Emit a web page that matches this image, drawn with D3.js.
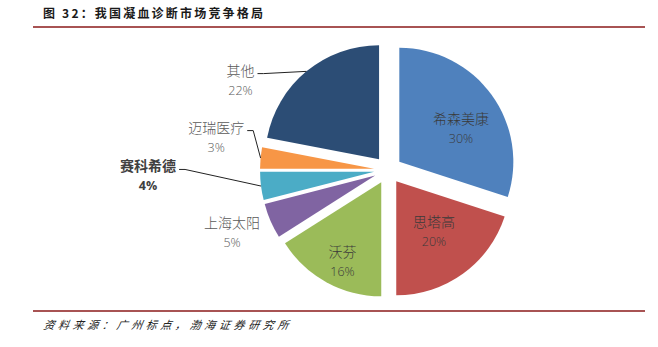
<!DOCTYPE html>
<html><head><meta charset="utf-8">
<script src="https://cdn.jsdelivr.net/npm/d3@7"></script>
<style>body{margin:0;background:#fff}svg{display:block}</style>
</head><body>
<svg id="c" width="658" height="347"></svg>
<script>
const categories = ["希森美康","思塔高","沃芬","上海太阳","赛科希德","迈瑞医疗","其他"];
const shares = [30,20,16,5,4,3,22];
const colors = ["#4F81BD","#C0504D","#9BBB59","#8064A2","#4BACC6","#F79646","#2C4D75"];
const titleText = "图 32：我国凝血诊断市场竞争格局";
const sourceText = "资料来源：广州标点，渤海证券研究所";
// label layout (polar, degrees from top clockwise, px from centre)
const labelAngle = [59.8,143,206.6,248.2,268.7,281,301.5];
const labelRadius = [84.5,76.4,101.7,168,240,175,173];
const hasLeader = [false,false,false,false,true,true,true];
const inside = [true,true,true,false,false,false,false];
const boldLabel = [false,false,false,false,true,false,false];

const svg = d3.select("#c");
const cx = 388, cy = 170, R = 114, explode = 14;

// header/footer
svg.append("text").attr("x",43).attr("y",18).attr("font-family","Noto Sans CJK SC").attr("font-weight","bold")
  .attr("font-size",12).attr("fill","#1a1a1a").attr("textLength",220).attr("lengthAdjust","spacing").text(titleText);
svg.append("line").attr("x1",33).attr("x2",645).attr("y1",27).attr("y2",27).attr("stroke","#8B1A1A").attr("stroke-width",1.6);
svg.append("line").attr("x1",33).attr("x2",645).attr("y1",311).attr("y2",311).attr("stroke","#8B1A1A").attr("stroke-width",1.6);
svg.append("text").attr("x",43).attr("y",329).attr("font-family","Noto Sans CJK SC").attr("font-style","italic")
  .attr("font-size",11).attr("fill","#222").attr("textLength",245).attr("lengthAdjust","spacing")
  .attr("transform","skewX(-10) translate(58,0)").text(sourceText);

const pie = d3.pie().sort(null).value(d=>d);
const arcs = pie(shares);
const arc = d3.arc().innerRadius(0).outerRadius(R);
const g = svg.append("g").attr("transform",`translate(${cx},${cy})`);

arcs.forEach((a,i)=>{
  const mid = (a.startAngle+a.endAngle)/2;
  const [ox,oy] = d3.pointRadial(mid, explode);
  g.append("path").attr("d",arc(a)).attr("transform",`translate(${ox},${oy})`).attr("fill",colors[i]);
});

arcs.forEach((a,i)=>{
  const [lx,ly] = d3.pointRadial(labelAngle[i]*Math.PI/180, labelRadius[i]);
  const t = g.append("text").attr("text-anchor","middle")
    .attr("font-family","Noto Sans CJK SC").attr("font-size",14)
    .attr("font-weight", boldLabel[i] ? "bold" : 300)
    .attr("fill", inside[i] ? "#3a3a3a" : (boldLabel[i] ? "#404040" : "#595959"));
  t.append("tspan").attr("x",lx).attr("y",ly-4).text(categories[i]);
  t.append("tspan").attr("x",lx).attr("y",ly+15).attr("font-family","Open Sans").attr("font-size",12.5).text(shares[i]+"%");
  if(hasLeader[i]){
    const w = t.select("tspan").node().getComputedTextLength();
    const mid = (a.startAngle+a.endAngle)/2;
    const [ox,oy] = d3.pointRadial(mid, explode);
    const [px,py] = d3.pointRadial(mid, R);
    const sx = lx + w/2 + 3, sy = ly - 6;
    g.append("path").attr("d", d3.line()([[sx,sy],[sx+6,sy],[px+ox,py+oy]]))
      .attr("fill","none").attr("stroke","#222").attr("stroke-width",1);
  }
});
</script>
</body></html>
